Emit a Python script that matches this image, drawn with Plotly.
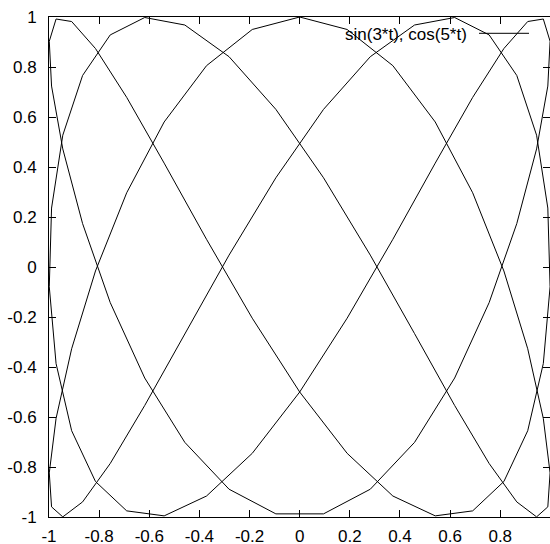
import plotly.graph_objects as go

# Parametric curve samples: x = sin(3*t), y = cos(5*t)
x_vals = [0, .18925, .37166, .54064, .69007, .81458, .90963, .97181, .99887, .98982,
          .94500, .86603, .75575, .61815, .45822, .28172, .09505, -.09505, -.28172, -.45822,
          -.61815, -.75575, -.86603, -.94500, -.98982, -.99887, -.97181, -.90963, -.81458, -.69007,
          -.54064, -.37166, -.18925, 0, .18925, .37166, .54064, .69007, .81458, .90963,
          .97181, .99887, .98982, .94500, .86603, .75575, .61815, .45822, .28172, .09505,
          -.09505, -.28172, -.45822, -.61815, -.75575, -.86603, -.94500, -.98982, -.99887, -.97181,
          -.90963, -.81458, -.69007, -.54064, -.37166, -.18925, 0, .18925, .37166, .54064,
          .69007, .81458, .90963, .97181, .99887, .98982, .94500, .86603, .75575, .61815,
          .45822, .28172, .09505, -.09505, -.28172, -.45822, -.61815, -.75575, -.86603, -.94500,
          -.98982, -.99887, -.97181, -.90963, -.81458, -.69007, -.54064, -.37166, -.18925, 0]

y_vals = [1, .95007, .80527, .58006, .29692, -.01587, -.32707, -.60561, -.82368, -.95949,
          -.99950, -.93969, -.78605, -.55392, -.26647, .04758, .35689, .63055, .84125, .96795,
          .99799, .92837, .76604, .52723, .23576, -.07925, -.38635, -.65486, -.85798, -.97543,
          -.99547, -.91611, -.74526, -.5, -.20481, .11084, .41542, .67851, .87385, .98193,
          .99196, .90293, .72373, .47227, .17365, -.14232, -.44407, -.70148, -.88884, -.98744,
          -.98744, -.88884, -.70148, -.44407, -.14232, .17365, .47227, .72373, .90293, .99196,
          .98193, .87385, .67851, .41542, .11084, -.20481, -.5, -.74526, -.91611, -.99547,
          -.97543, -.85798, -.65486, -.38635, -.07925, .23576, .52723, .76604, .92837, .99799,
          .96795, .84125, .63055, .35689, .04758, -.26647, -.55392, -.78605, -.93969, -.99950,
          -.95949, -.82368, -.60561, -.32707, -.01587, .29692, .58006, .80527, .95007, 1]

x_ticks = [-1, -0.8, -0.6, -0.4, -0.2, 0, 0.2, 0.4, 0.6, 0.8, 1]
x_labels = ["-1", "-0.8", "-0.6", "-0.4", "-0.2", "0", "0.2", "0.4", "0.6", "0.8", "1"]
y_ticks = [-1, -0.8, -0.6, -0.4, -0.2, 0, 0.2, 0.4, 0.6, 0.8, 1]
y_labels = ["-1", "-0.8", "-0.6", "-0.4", "-0.2", "0", "0.2", "0.4", "0.6", "0.8", "1"]
legend_label = "sin(3*t), cos(5*t)"

FONT = dict(family="Liberation Sans, Arial, sans-serif", size=17, color="black")

fig = go.Figure()
fig.add_trace(go.Scatter(x=x_vals, y=y_vals, mode="lines",
                         line=dict(color="black", width=1),
                         showlegend=False, hoverinfo="skip"))

axis_common = dict(showline=True, linecolor="black", linewidth=1, mirror="ticks",
                   ticks="inside", ticklen=7, tickwidth=1, tickcolor="black",
                   showgrid=False, zeroline=False, tickfont=FONT, automargin=False)

fig.update_layout(
    width=550, height=544,
    margin=dict(l=49, r=0, t=17, b=27, autoexpand=False),
    paper_bgcolor="white", plot_bgcolor="white",
    xaxis=dict(range=[-1, 0.9985], tickvals=x_ticks, ticktext=x_labels,
               ticklabelstandoff=4, **axis_common),
    yaxis=dict(range=[-1, 1], tickvals=y_ticks, ticktext=y_labels,
               ticklabelstandoff=8, **axis_common),
    showlegend=False,
)

# gnuplot-style key: label on the left, line sample on the right
fig.add_annotation(x=0.8363, y=0.966, xref="paper", yref="paper",
                   text=legend_label, showarrow=False, xanchor="right", yanchor="middle",
                   font=FONT, borderpad=0)
fig.add_shape(type="line", xref="paper", yref="paper",
              x0=0.8583, x1=0.9581, y0=0.9674, y1=0.9674,
              line=dict(color="black", width=1))

fig.write_html("out.html")
